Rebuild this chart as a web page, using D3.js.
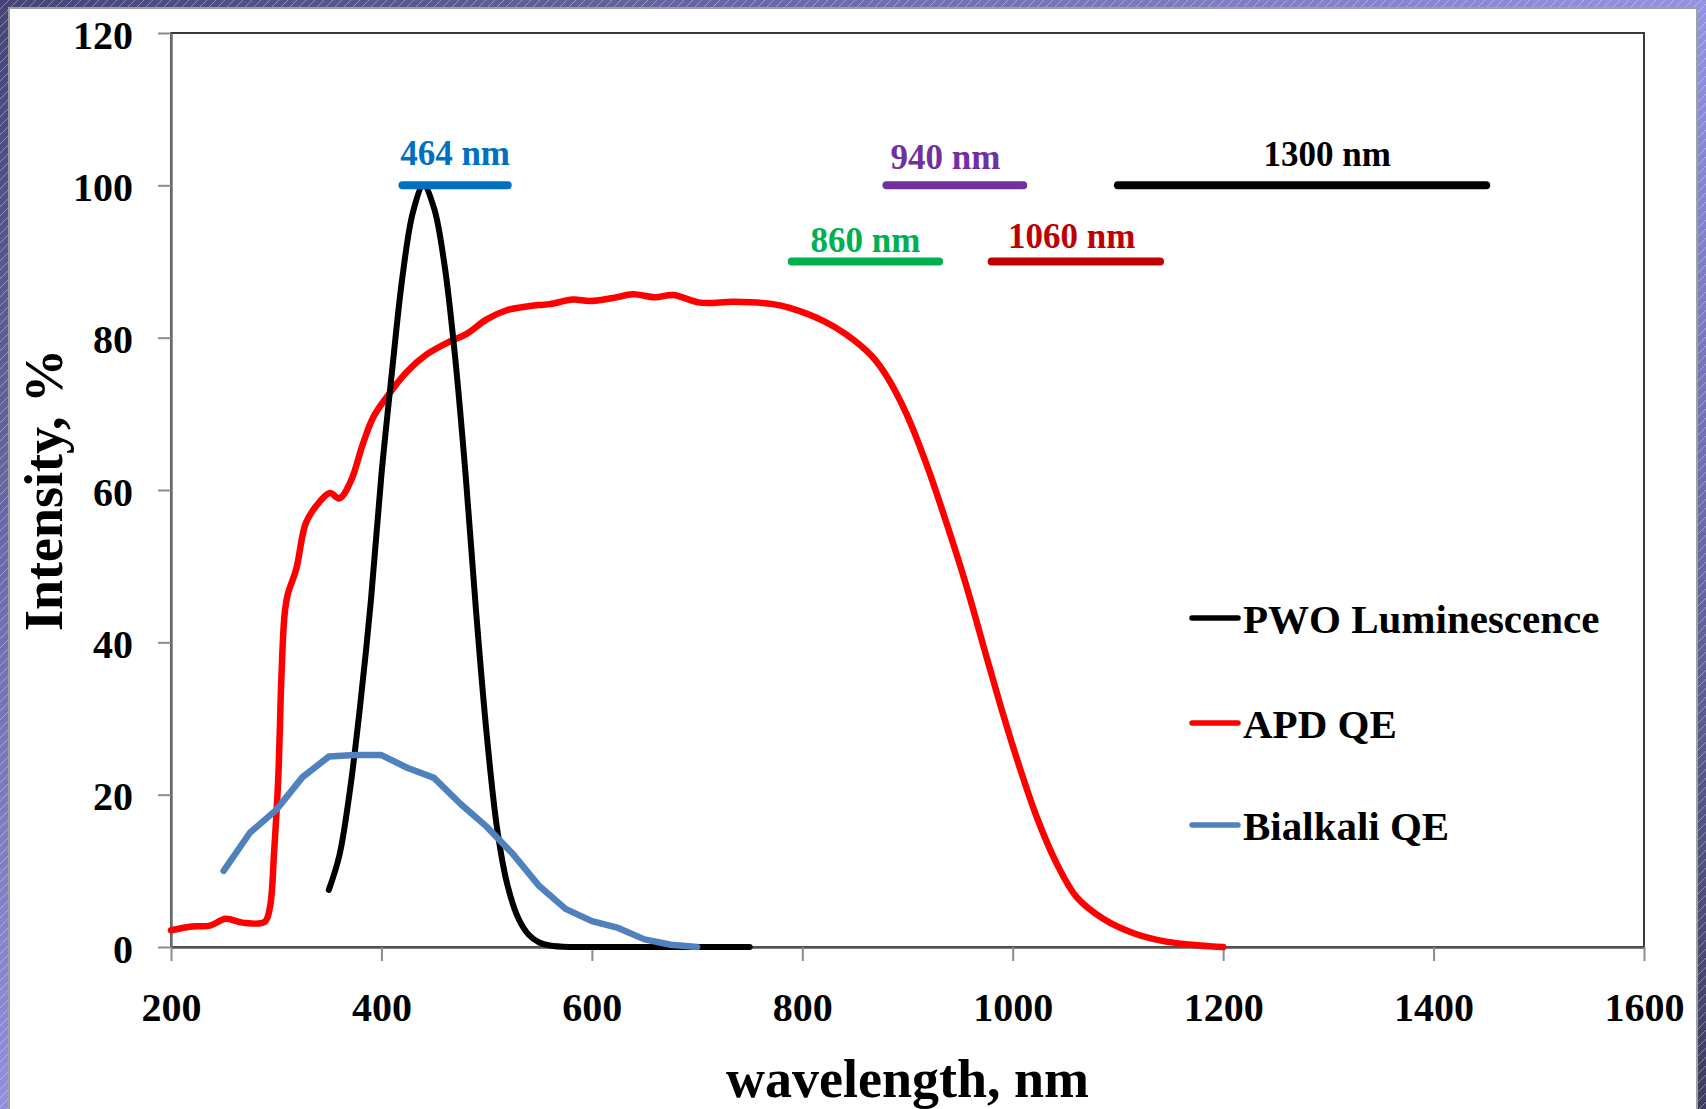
<!DOCTYPE html>
<html>
<head>
<meta charset="utf-8">
<script src="https://cdn.jsdelivr.net/npm/d3@7"></script>
<style>
	body { margin: 0; background: #fff; }
	svg { display: block; font-family: "Liberation Serif", "Times New Roman", serif; font-weight: bold; }
</style>
</head>
<body>
<svg id="chart" width="1706" height="1109"></svg>
<script>
// values
const pwoWl = [350, 360, 370, 380, 390, 400, 410, 420, 430, 440, 450, 460, 470, 480, 490, 500, 510, 520, 530, 540, 550, 560, 580, 600, 650, 700, 750];
const pwoInt = [7.5, 12, 20.5, 32, 45.5, 62, 75.5, 88, 96.5, 100, 97, 89.5, 77.5, 62, 44, 28, 15.5, 8, 3.8, 1.6, 0.6, 0.2, 0, 0, 0, 0, 0];

const apdWl = [200, 220, 237, 252, 268, 289, 294, 298, 302, 305, 308, 311, 319, 328, 338, 351, 360, 371, 382, 392, 405, 424, 443, 465, 481, 500, 519, 538, 551, 560, 582, 598, 620, 639, 660, 677, 703, 735, 772, 788, 820, 842, 866, 880, 899, 918, 937, 956, 972, 988, 1004, 1023, 1042, 1061, 1086, 1115, 1146, 1178, 1200];
const apdQE = [2.2, 2.7, 2.8, 3.7, 3.2, 3.3, 5.2, 12.5, 22.4, 35.7, 43.7, 46.3, 49.6, 55.6, 57.9, 59.6, 58.9, 61.2, 65.9, 69.5, 72.2, 75.5, 77.8, 79.5, 80.5, 82.4, 83.6, 84.1, 84.3, 84.4, 85.0, 84.8, 85.2, 85.7, 85.3, 85.6, 84.6, 84.7, 84.4, 83.9, 82.2, 80.4, 77.6, 75.0, 70.0, 63.4, 55.7, 47.4, 39.6, 31.9, 24.7, 17.0, 10.9, 6.5, 3.7, 1.8, 0.7, 0.2, 0];

const bialkaliWl = [250, 275, 300, 325, 350, 375, 400, 425, 450, 475, 500, 525, 550, 575, 600, 625, 650, 675, 700];
const bialkaliQE = [10, 15, 18, 22.3, 25, 25.2, 25.2, 23.5, 22.2, 18.8, 15.8, 12.2, 8, 5, 3.4, 2.5, 1, 0.3, 0];

const seriesNames = ['PWO Luminescence', 'APD QE', 'Bialkali QE'];

// wavelength markers: label, range (nm), level (%)
const markerLabels = ['464 nm', '940 nm', '1300 nm', '860 nm', '1060 nm'];
const markerFrom = [420, 880, 1100, 790, 980];
const markerTo = [520, 1010, 1450, 930, 1140];
const markerLevel = [100, 100, 100, 90, 90];

const xTicks = [200, 400, 600, 800, 1000, 1200, 1400, 1600];
const yTicks = [0, 20, 40, 60, 80, 100, 120];

// layout / style
const W = 1706, H = 1109;
const plot = { left: 171, right: 1644, top: 33, bottom: 947 };
const seriesColors = ['#000000', '#ff0000', '#4f81bd'];
const seriesWidths = [6, 6.5, 6.5];
const markerColors = ['#0070c0', '#7030a0', '#000000', '#00b050', '#c00000'];
const markerLabelNm = [470, 936, 1299, 860, 1056];
const markerLabelLift = [20, 16, 19, 10, 14];

const svg = d3.select('#chart');
const defs = svg.append('defs');

// frame background
const gradTop = defs.append('linearGradient').attr('id', 'gTop').attr('x1', 0).attr('x2', 1).attr('y1', 0).attr('y2', 0);
gradTop.append('stop').attr('offset', 0).attr('stop-color', '#45457a');
gradTop.append('stop').attr('offset', 1).attr('stop-color', '#9393e2');
const gradLeft = defs.append('linearGradient').attr('id', 'gLeft').attr('x1', 0).attr('x2', 0).attr('y1', 0).attr('y2', 1);
gradLeft.append('stop').attr('offset', 0).attr('stop-color', '#45457a');
gradLeft.append('stop').attr('offset', 1).attr('stop-color', '#9090dc');
const gradRight = defs.append('linearGradient').attr('id', 'gRight').attr('x1', 0).attr('x2', 0).attr('y1', 0).attr('y2', 1);
gradRight.append('stop').attr('offset', 0).attr('stop-color', '#9393e2');
gradRight.append('stop').attr('offset', 1).attr('stop-color', '#3c3c5e');

const stripes = defs.append('pattern').attr('id', 'stripes').attr('patternUnits', 'userSpaceOnUse')
	.attr('width', 9).attr('height', 9);
stripes.append('path').attr('d', 'M0,9 L9,0').attr('stroke', 'rgba(255,255,255,0.35)').attr('stroke-width', 1);

svg.append('rect').attr('x', 0).attr('y', 0).attr('width', W).attr('height', 12).attr('fill', 'url(#gTop)');
svg.append('rect').attr('x', 0).attr('y', 6).attr('width', 12).attr('height', H).attr('fill', 'url(#gLeft)');
svg.append('rect').attr('x', W - 12).attr('y', 6).attr('width', 12).attr('height', H).attr('fill', 'url(#gRight)');
svg.append('rect').attr('x', 0).attr('y', 0).attr('width', W).attr('height', H).attr('fill', 'url(#stripes)');

svg.append('rect')
	.attr('x', 9).attr('y', 8)
	.attr('width', W - 18).attr('height', H + 10)
	.attr('fill', '#fff')
	.attr('stroke', '#a0a0a0')
	.attr('stroke-width', 2);

const xScale = d3.scaleLinear().domain([200, 1600]).range([plot.left, plot.right]);
const yScale = d3.scaleLinear().domain([0, 120]).range([plot.bottom, plot.top]);

// plot area border
svg.append('rect')
	.attr('x', plot.left).attr('y', plot.top)
	.attr('width', plot.right - plot.left).attr('height', plot.bottom - plot.top)
	.attr('fill', 'none')
	.attr('stroke', '#3a3a3a')
	.attr('stroke-width', 2);

const yAxis = svg.append('g')
	.attr('transform', `translate(${plot.left},0)`)
	.call(d3.axisLeft(yScale).tickValues(yTicks).tickFormat(d3.format('d')).tickSize(13).tickPadding(25).tickSizeOuter(0));
yAxis.select('.domain').attr('stroke', '#6e6e6e').attr('stroke-width', 2.5);
yAxis.selectAll('.tick line').attr('stroke', '#8c8c8c').attr('stroke-width', 2);
yAxis.selectAll('.tick text')
	.attr('font-family', '"Liberation Serif", serif')
	.attr('font-size', 40)
	.attr('fill', '#000')
	.attr('dy', '0.38em');

const xAxis = svg.append('g')
	.attr('transform', `translate(0,${plot.bottom})`)
	.call(d3.axisBottom(xScale).tickValues(xTicks).tickFormat(d3.format('d')).tickSize(14).tickPadding(32).tickSizeOuter(0));
xAxis.select('.domain').attr('stroke', '#555').attr('stroke-width', 2.5);
xAxis.selectAll('.tick line').attr('stroke', '#8c8c8c').attr('stroke-width', 2);
xAxis.selectAll('.tick text')
	.attr('font-family', '"Liberation Serif", serif')
	.attr('font-size', 40)
	.attr('fill', '#000')
	.attr('dy', '0.71em');

svg.append('text')
	.attr('x', (plot.left + plot.right) / 2)
	.attr('y', 1097)
	.attr('text-anchor', 'middle')
	.attr('font-size', 54)
	.text('wavelength, nm');

svg.append('text')
	.attr('transform', `translate(62,${(plot.top + plot.bottom) / 2}) rotate(-90)`)
	.attr('text-anchor', 'middle')
	.attr('font-size', 54)
	.text('Intensity, %');

// curves
const series = [
	{ wl: pwoWl, v: pwoInt, curve: d3.curveCatmullRom.alpha(0.5) },
	{ wl: apdWl, v: apdQE, curve: d3.curveCatmullRom.alpha(0.5) },
	{ wl: bialkaliWl, v: bialkaliQE, curve: d3.curveLinear }
];
const drawOrder = [1, 0, 2];
drawOrder.forEach(i => {
	const s = series[i];
	const line = d3.line()
		.x((d, j) => xScale(s.wl[j]))
		.y(d => yScale(d))
		.curve(s.curve);
	svg.append('path')
		.attr('d', line(s.v))
		.attr('fill', 'none')
		.attr('stroke', seriesColors[i])
		.attr('stroke-width', seriesWidths[i])
		.attr('stroke-linejoin', 'round')
		.attr('stroke-linecap', 'round');
});

// wavelength markers
markerLabels.forEach((label, i) => {
	svg.append('line')
		.attr('x1', xScale(markerFrom[i]))
		.attr('x2', xScale(markerTo[i]))
		.attr('y1', yScale(markerLevel[i]))
		.attr('y2', yScale(markerLevel[i]))
		.attr('stroke', markerColors[i])
		.attr('stroke-width', 8)
		.attr('stroke-linecap', 'round');
	svg.append('text')
		.attr('x', xScale(markerLabelNm[i]))
		.attr('y', yScale(markerLevel[i]) - markerLabelLift[i])
		.attr('text-anchor', 'middle')
		.attr('font-size', 35)
		.attr('fill', markerColors[i])
		.text(label);
});

// legend
const legendY = [618, 723, 825];
const legend = svg.append('g');
seriesNames.forEach((name, i) => {
	legend.append('line')
		.attr('x1', 1192).attr('x2', 1238)
		.attr('y1', legendY[i]).attr('y2', legendY[i])
		.attr('stroke', seriesColors[i])
		.attr('stroke-width', 5.5)
		.attr('stroke-linecap', 'round');
	legend.append('text')
		.attr('x', 1243)
		.attr('y', legendY[i] + 15)
		.attr('font-size', 41)
		.text(name);
});
</script>
</body>
</html>
